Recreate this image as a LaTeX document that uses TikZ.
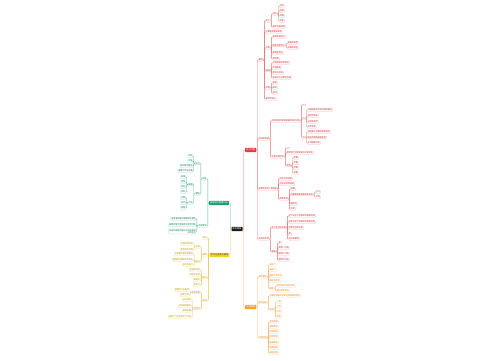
\documentclass[tikz,border=0pt]{standalone}
\usepackage{fontspec}
\newfontfamily\cjk{Noto Sans CJK SC}

\definecolor{topbg}{HTML}{1C1C1C}
\definecolor{redmain}{HTML}{E03E3E}
\definecolor{redline}{HTML}{E57373}
\definecolor{redtext}{HTML}{C62828}
\definecolor{orgmain}{HTML}{F5A12A}
\definecolor{orgline}{HTML}{F3B46A}
\definecolor{orgtext}{HTML}{E08A10}
\definecolor{grnmain}{HTML}{1E9E72}
\definecolor{grnline}{HTML}{55B894}
\definecolor{grntext}{HTML}{17805C}
\definecolor{ylwmain}{HTML}{F7D520}
\definecolor{ylwline}{HTML}{E5C94A}
\definecolor{ylwtext}{HTML}{B59410}

\begin{document}
\begin{tikzpicture}[
    x=1pt, y=-1pt,
    topic/.style={
        rectangle,
        inner sep=1.1pt,
        rounded corners=0.5pt,
        font=\cjk\fontsize{2.2}{2.6}\selectfont,
        text=white
    },
    sub/.style={
        rectangle,
        draw,
        line width=0.25pt,
        inner xsep=0.5pt,
        inner ysep=0.4pt,
        rounded corners=0.4pt,
        font=\cjk\fontsize{2}{2.3}\selectfont
    },
    rsub/.style={sub, draw=redline!50, text=redtext, anchor=west, xshift=1.8pt},
    osub/.style={sub, draw=orgline!50, text=orgtext, anchor=west, xshift=1.8pt},
    gsub/.style={sub, draw=grnline!50, text=grntext, anchor=east, xshift=-1.8pt},
    ysub/.style={sub, draw=ylwline!60, text=ylwtext, anchor=east, xshift=-1.8pt},
    link/.style={line width=0.35pt, rounded corners=0.6pt},
    rline/.style={link, draw=redline},
    oline/.style={link, draw=orgline},
    gline/.style={link, draw=grnline},
    yline/.style={link, draw=ylwline}
]

    \fill[white] (0,0) rectangle (500,360);

    % --- Centre and the four main topics ---
    \node [topic, fill=topbg] (top) at (237,229) {知识框架};
    \node [topic, fill=redmain, anchor=west] (red) at (245,150) {核心内容};
    \node [topic, fill=orgmain, anchor=west] (org) at (245,307) {知识拓展};
    \node [topic, fill=grnmain, anchor=east] (grn) at (229,203) {基础知识梳理归纳};
    \node [topic, fill=ylwmain, text=black!80, anchor=east] (ylw) at (229.5,255) {学习方法技巧指导};

    \draw [rline] (top.east) -- ++(1,0) |- (red.west);
    \draw [oline] (top.east) -- ++(1,0) |- (org.west);
    \draw [gline] (top.west) -- ++(-1,0) |- (grn.east);
    \draw [yline] (top.west) -- ++(-1,0) |- (ylw.east);

    % --- Red branch ---
    \node [rsub] (R1) at (red.east |- 0,60) {概述};
    \node [rsub] (R2) at (red.east |- 0,139) {形成的原理};
    \node [rsub] (R3) at (red.east |- 0,189) {发展变化的一般规律};
    \node [rsub] (R4) at (red.east |- 0,239) {实际的应用};
    \foreach \k in {R1,R2,R3,R4}
        \draw [rline] (red.east) -- ++(0.9,0) |- (\k.west);

    % overview
    \node [rsub] (B1) at (R1.east |- 0,21) {定义};
    \node [rsub] (B2) at (R1.east |- 0,32) {主要构成相关联系};
    \node [rsub] (B3) at (R1.east |- 0,48) {分类};
    \node [rsub] (B4) at (R1.east |- 0,70.5) {组成};
    \node [rsub] (B5) at (R1.east |- 0,88) {作用};
    \node [rsub] (B6) at (R1.east |- 0,99) {研究的意义};
    \foreach \k in {B1,B2,B3,B4,B5,B6}
        \draw [rline] (R1.east) -- ++(0.9,0) |- (\k.west);

    \node [rsub] (C1) at (B1.east |- 0,14) {特点};
    \node [rsub] (C2) at (B1.east |- 0,27) {基本内容说明};
    \foreach \k in {C1,C2}
        \draw [rline] (B1.east) -- ++(0.9,0) |- (\k.west);
    \foreach \nm/\y/\txt in {c1a/6/形式, c1b/11/性质, c1c/16/范围, c1d/21/功能} {
        \node [rsub] (\nm) at (C1.east |- 0,\y) {\txt};
        \draw [rline] (C1.east) -- ++(0.9,0) |- (\nm.west);
    }

    \node [rsub] (C3) at (B3.east |- 0,37) {按照来源划分};
    \node [rsub] (C4) at (B3.east |- 0,45.5) {按照性质划分};
    \node [rsub] (C5) at (B3.east |- 0,53) {按用途划分};
    \node [rsub] (C6) at (B3.east |- 0,59) {其他类};
    \foreach \k in {C3,C4,C5,C6}
        \draw [rline] (B3.east) -- ++(0.9,0) |- (\k.west);
    \foreach \nm/\y/\txt in {c4a/43/直接的类型, c4b/48/间接的类型} {
        \node [rsub] (\nm) at (C4.east |- 0,\y) {\txt};
        \draw [rline] (C4.east) -- ++(0.9,0) |- (\nm.west);
    }

    \foreach \nm/\y/\txt in {b4a/63/外部结构及其特征, b4b/68/内部结构,
                             b4c/73/层次与关系, b4d/78/各部分之间相互作用} {
        \node [rsub] (\nm) at (B4.east |- 0,\y) {\txt};
        \draw [rline] (B4.east) -- ++(0.9,0) |- (\nm.west);
    }
    \foreach \nm/\y/\txt in {b5a/83/促进, b5b/88/制约, b5c/93/调节} {
        \node [rsub] (\nm) at (B5.east |- 0,\y) {\txt};
        \draw [rline] (B5.east) -- ++(0.9,0) |- (\nm.west);
    }

    % principle
    \node [rsub] (S1) at (R2.east |- 0,121) {形成过程与影响因素的综合分析};
    \node [rsub] (S2) at (R2.east |- 0,157) {主要过程阶段};
    \foreach \k in {S1,S2}
        \draw [rline] (R2.east) -- ++(0.9,0) |- (\k.west);

    \node [rsub] (T1) at (S1.east |- 0,105) {一};
    \node [rsub] (T2) at (S1.east |- 0,118.5) {二};
    \node [rsub] (T3) at (S1.east |- 0,137.5) {三};
    \foreach \k in {T1,T2,T3}
        \draw [rline] (S1.east) -- ++(0.9,0) |- (\k.west);
    \foreach \nm/\y/\txt in {t2a/110/内部因素对形成过程的影响, t2b/116/自然的条件,
                             t2c/122/社会的条件, t2d/127/历史条件} {
        \node [rsub] (\nm) at (T2.east |- 0,\y) {\txt};
        \draw [rline] (T2.east) -- ++(0.9,0) |- (\nm.west);
    }
    \foreach \nm/\y/\txt in {t3a/132/各因素之间相互联系制约, t3b/137.5/综合作用的具体表现,
                             t3c/143/主导因素分析} {
        \node [rsub] (\nm) at (T3.east |- 0,\y) {\txt};
        \draw [rline] (T3.east) -- ++(0.9,0) |- (\nm.west);
    }

    \node [rsub] (U1) at (S2.east |- 0,148) {一};
    \node [rsub] (U2) at (S2.east |- 0,153) {各阶段之间的衔接与过渡关系};
    \node [rsub] (U3) at (S2.east |- 0,165.5) {阶段};
    \foreach \k in {U1,U2,U3}
        \draw [rline] (S2.east) -- ++(0.9,0) |- (\k.west);
    \foreach \nm/\y/\txt in {u3a/158/初期, u3b/163/中期, u3c/168/后期, u3d/173/末期} {
        \node [rsub] (\nm) at (U3.east |- 0,\y) {\txt};
        \draw [rline] (U3.east) -- ++(0.9,0) |- (\nm.west);
    }

    % regularity
    \node [rsub] (V1) at (R3.east |- 0,179) {时间上的规律};
    \node [rsub] (V2) at (R3.east |- 0,184) {空间分布的规律};
    \node [rsub] (V3) at (R3.east |- 0,199) {具体表现};
    \foreach \k in {V1,V2,V3}
        \draw [rline] (R3.east) -- ++(0.9,0) |- (\k.west);

    \node [rsub] (W1) at (V3.east |- 0,189) {周期};
    \node [rsub] (W2) at (V3.east |- 0,194.5) {长期趋势和短期波动关系};
    \node [rsub] (W3) at (V3.east |- 0,204) {稳定性};
    \node [rsub] (W4) at (V3.east |- 0,209) {突变};
    \foreach \k in {W1,W2,W3,W4}
        \draw [rline] (V3.east) -- ++(0.9,0) |- (\k.west);
    \foreach \nm/\y/\txt in {w2a/192/上升, w2b/197/下降} {
        \node [rsub] (\nm) at (W2.east |- 0,\y) {\txt};
        \draw [rline] (W2.east) -- ++(0.9,0) |- (\nm.west);
    }

    % application
    \node [rsub] (X1) at (R4.east |- 0,227.5) {生产生活中应用};
    \node [rsub] (X2) at (R4.east |- 0,251.5) {案例};
    \foreach \k in {X1,X2}
        \draw [rline] (R4.east) -- ++(0.9,0) |- (\k.west);
    \foreach \nm/\y/\txt in {x1a/216/在工业生产领域中的具体应用, x1b/222/在农业生产领域中的具体应用,
                             x1c/228/日常生活中应用, x1d/234/例, x1e/239/应注意事项} {
        \node [rsub] (\nm) at (X1.east |- 0,\y) {\txt};
        \draw [rline] (X1.east) -- ++(0.9,0) |- (\nm.west);
    }
    \foreach \nm/\y/\txt in {x2a/243/甲, x2b/248/案例一分析, x2c/254/案例二分析, x2d/260/案例三分析} {
        \node [rsub] (\nm) at (X2.east |- 0,\y) {\txt};
        \draw [rline] (X2.east) -- ++(0.9,0) |- (\nm.west);
    }

    % --- Orange branch ---
    \node [osub] (O1) at (org.east |- 0,277) {相关概念};
    \node [osub] (O2) at (org.east |- 0,302.5) {常见误区};
    \node [osub] (O3) at (org.east |- 0,337.5) {习题训练};
    \foreach \k in {O1,O2,O3}
        \draw [oline] (org.east) -- ++(0.9,0) |- (\k.west);

    \node [osub] (P) at (O1.east |- 0,288.5) {联系};
    \foreach \nm/\y/\txt in {o1a/265/概念一, o1b/270/概念二, o1c/276/概念之间比较, o1d/281/概念的区别} {
        \node [osub] (\nm) at (O1.east |- 0,\y) {\txt};
        \draw [oline] (O1.east) -- ++(0.9,0) |- (\nm.west);
    }
    \draw [oline] (O1.east) -- ++(0.9,0) |- (P.west);
    \foreach \nm/\y/\txt in {pa/286/相互联系与相互转化, pb/291/相互转化条件} {
        \node [osub] (\nm) at (P.east |- 0,\y) {\txt};
        \draw [oline] (P.east) -- ++(0.9,0) |- (\nm.west);
    }

    \node [osub] (o2a) at (O2.east |- 0,296) {对概念理解不清及运用错误的情况};
    \node [osub] (Q) at (O2.east |- 0,309.5) {类型};
    \foreach \k in {o2a,Q}
        \draw [oline] (O2.east) -- ++(0.9,0) |- (\k.west);
    \foreach \nm/\y/\txt in {qa/302/一类, qb/307/二类, qc/312/三类, qd/317/四类} {
        \node [osub] (\nm) at (Q.east |- 0,\y) {\txt};
        \draw [oline] (Q.east) -- ++(0.9,0) |- (\nm.west);
    }

    \foreach \nm/\y/\txt in {o3a/322/基础题目, o3b/327/提高题目, o3c/332/综合题目, o3d/337/探究题目,
                             o3e/343/拓展题目, o3f/348/真题演练, o3g/353/模拟训练} {
        \node [osub] (\nm) at (O3.east |- 0,\y) {\txt};
        \draw [oline] (O3.east) -- ++(0.9,0) |- (\nm.west);
    }

    % --- Green branch ---
    \node [gsub] (GA) at (grn.west |- 0,179) {内容};
    \node [gsub] (GB) at (grn.west |- 0,226) {注意事项};
    \foreach \k in {GA,GB}
        \draw [gline] (grn.west) -- ++(-0.9,0) |- (\k.east);

    \node [gsub] (G1) at (GA.west |- 0,163.5) {识记};
    \node [gsub] (G2) at (GA.west |- 0,194) {理解};
    \foreach \k in {G1,G2}
        \draw [gline] (GA.west) -- ++(-0.9,0) |- (\k.east);
    \foreach \nm/\y/\txt in {g1a/156/名称, g1b/161/术语, g1c/166/基本概念要点, g1d/171/重要公式与定理} {
        \node [gsub] (\nm) at (G1.west |- 0,\y) {\txt};
        \draw [gline] (G1.west) -- ++(-0.9,0) |- (\nm.east);
    }

    \node [gsub] (G21) at (G2.west |- 0,184.5) {原理};
    \node [gsub] (G22) at (G2.west |- 0,203) {方法};
    \foreach \k in {G21,G22}
        \draw [gline] (G2.west) -- ++(-0.9,0) |- (\k.east);
    \foreach \nm/\y/\txt in {g21a/177/规律, g21b/182/性质, g21c/187/特征, g21d/192/关系} {
        \node [gsub] (\nm) at (G21.west |- 0,\y) {\txt};
        \draw [gline] (G21.west) -- ++(-0.9,0) |- (\nm.east);
    }
    \foreach \nm/\y/\txt in {g22a/198/步骤, g22b/203/技巧, g22c/208/思路} {
        \node [gsub] (\nm) at (G22.west |- 0,\y) {\txt};
        \draw [gline] (G22.west) -- ++(-0.9,0) |- (\nm.east);
    }

    \node [gsub] (gb1) at (GB.west |- 0,219) {易混淆的概念需要辨析清楚};
    \node [gsub] (gb2) at (GB.west |- 0,225) {解题时需注意审题与规范作答};
    \node [gsub, align=right] (gb3) at (GB.west |- 0,231.5) {答题步骤要完整并且条理清晰\\书写规范};
    \foreach \k in {gb1,gb2,gb3}
        \draw [gline] (GB.west) -- ++(-0.9,0) |- (\k.east);

    % --- Yellow branch ---
    \node [ysub] (YA) at (ylw.west |- 0,238) {预习};
    \node [ysub] (YB) at (ylw.west |- 0,255) {课堂};
    \node [ysub] (YC) at (ylw.west |- 0,277.5) {复习};
    \node [ysub] (YD) at (ylw.west |- 0,300.5) {应试};
    \foreach \k in {YA,YB,YC,YD}
        \draw [yline] (ylw.west) -- ++(-0.9,0) |- (\k.east);

    \node [ysub] (YB1) at (YB.west |- 0,247) {听讲};
    \node [ysub] (YB2) at (YB.west |- 0,261.5) {笔记};
    \foreach \k in {YB1,YB2}
        \draw [yline] (YB.west) -- ++(-0.9,0) |- (\k.east);
    \foreach \nm/\y/\txt in {yb1a/244/认真听讲记录, yb1b/250/积极思考问题} {
        \node [ysub] (\nm) at (YB1.west |- 0,\y) {\txt};
        \draw [yline] (YB1.west) -- ++(-0.9,0) |- (\nm.east);
    }
    \foreach \nm/\y/\txt in {yb2a/254/记录重点难点及疑问, yb2b/260/整理知识框架形成体系, yb2c/265/及时地复习} {
        \node [ysub] (\nm) at (YB2.west |- 0,\y) {\txt};
        \draw [yline] (YB2.west) -- ++(-0.9,0) |- (\nm.east);
    }

    \foreach \nm/\y/\txt in {yca/270/查漏补缺点, ycb/275/归纳与总结, ycc/280/错题本, ycd/285/再练习} {
        \node [ysub] (\nm) at (YC.west |- 0,\y) {\txt};
        \draw [yline] (YC.west) -- ++(-0.9,0) |- (\nm.east);
    }

    \node [ysub] (YD1) at (YD.west |- 0,292.5) {考前准备};
    \node [ysub] (YD2) at (YD.west |- 0,308.5) {考试后};
    \foreach \k in {YD1,YD2}
        \draw [yline] (YD.west) -- ++(-0.9,0) |- (\k.east);
    \foreach \nm/\y/\txt in {yd1a/290/调整好心态备考, yd1b/295/制定计划} {
        \node [ysub] (\nm) at (YD1.west |- 0,\y) {\txt};
        \draw [yline] (YD1.west) -- ++(-0.9,0) |- (\nm.east);
    }
    \foreach \nm/\y/\txt in {yd2a/300/分析试卷, yd2b/306/总结经验教训, yd2c/311/查缺补漏,
                             yd2d/317/制定下一阶段的学习计划} {
        \node [ysub] (\nm) at (YD2.west |- 0,\y) {\txt};
        \draw [yline] (YD2.west) -- ++(-0.9,0) |- (\nm.east);
    }

\end{tikzpicture}
\end{document}
